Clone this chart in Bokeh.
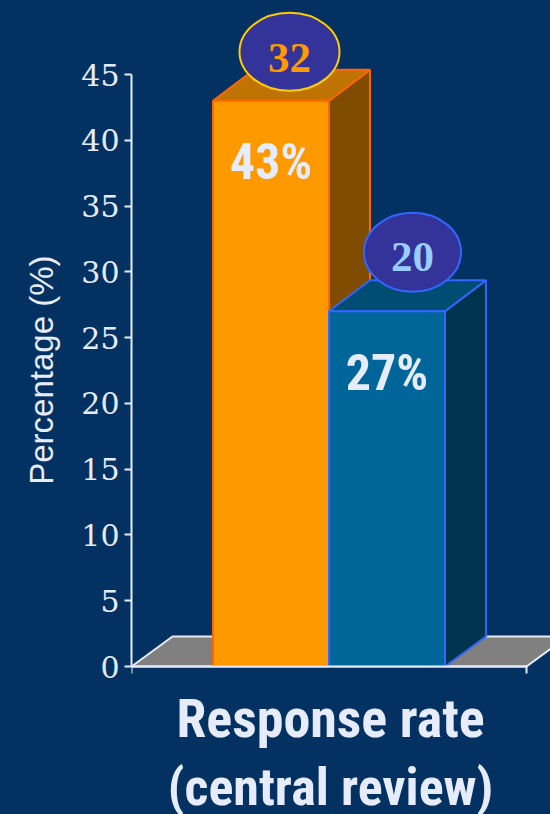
from bokeh.core.properties import value
from bokeh.embed import file_html
from bokeh.models import CustomLabelingPolicy, FixedTicker, Range1d, Title
from bokeh.plotting import figure
from bokeh.resources import INLINE

# Chart values
rates = [43, 27]
rate_labels = ["43%", "27%"]
patients = [32, 20]
y_ticks = [0, 5, 10, 15, 20, 25, 30, 35, 40, 45]
y_title = "Percentage (%)"
x_title_lines = ["Response rate", "(central review)"]

# Colours per bar: front, top, side, outline, oval outline, oval text
front_colors = ["#ff9900", "#00669a"]
top_colors = ["#bf7300", "#004d73"]
side_colors = ["#804d00", "#00334d"]
edge_colors = ["#ff6600", "#3366ff"]
oval_edges = ["#ffcc00", "#3366ff"]
oval_text = ["#ff9900", "#99ccff"]

BG = "#033161"
INK = "#e6ecfb"
W, H = 550, 814
AXIS_LEFT, AXIS_BOTTOM, AXIS_TOP = 131, 666, 74
PX = (AXIS_BOTTOM - AXIS_TOP) / 45  # pixels per percentage point
DEPTH_X = 41                        # oblique depth of the 3D boxes
DEPTH_Y = 31 / PX
FLOOR_DEPTH = 30 / PX
BAR_W = 116
BAR_START = 212.5
BASELINE_SHIFT = 0.37               # em offset of the text anchor from the baseline


def px(n):
    """A vertical distance in pixels, in percentage points."""
    return n / PX


p = figure(
    width=W, height=H, output_backend="svg", toolbar_location=None,
    x_range=Range1d(AXIS_LEFT, W),
    y_range=Range1d(-px(H - AXIS_BOTTOM), px(AXIS_BOTTOM)),
    min_border_left=AXIS_LEFT, min_border_right=0, min_border_top=0, min_border_bottom=0,
    background_fill_color=None, border_fill_color=None, outline_line_color=None,
)
p.styles = {"background-color": BG}
p.grid.visible = False

# Left axis
yax = p.yaxis[0]
yax.bounds = (0, 45)
yax.ticker = FixedTicker(ticks=y_ticks)
yax.minor_tick_line_color = None
yax.major_tick_in = 0
yax.major_tick_out = 7
yax.major_tick_line_color = INK
yax.major_tick_line_width = 2
yax.axis_line_color = INK
yax.axis_line_width = 2
yax.major_label_text_color = INK
yax.major_label_text_font = "DejaVu Serif"
yax.major_label_text_font_size = "30px"
yax.major_label_standoff = 5
yax.major_label_orientation = "horizontal"

# Vertical title beside the axis, anchored by its upper end
p.add_layout(Title(text=y_title, align="right", offset=255, standoff=38,
                   text_color=INK, text_font="Liberation Sans",
                   text_font_style="normal", text_font_size="33px"), "left")

# Floor of the chart, with the baseline axis along its front edge
floor_right = 526
p.patch([AXIS_LEFT, AXIS_LEFT + DEPTH_X, floor_right + DEPTH_X, floor_right],
        [0, FLOOR_DEPTH, FLOOR_DEPTH, 0],
        fill_color="#808080", line_color=INK, line_width=2)

xax = p.xaxis[0]
xax.fixed_location = 0
xax.bounds = (AXIS_LEFT, floor_right)
xax.ticker = FixedTicker(ticks=[AXIS_LEFT, floor_right])
xax.minor_tick_line_color = None
xax.major_label_policy = CustomLabelingPolicy(code="return new Set()")
xax.major_tick_in = 0
xax.major_tick_out = 7
xax.major_tick_line_color = INK
xax.major_tick_line_width = 2
xax.axis_line_color = INK
xax.axis_line_width = 2

# 3D boxes, back to front
for i, rate in enumerate(rates):
    x0 = BAR_START + i * BAR_W
    x1 = x0 + BAR_W
    p.patch([x1, x1 + DEPTH_X, x1 + DEPTH_X, x1], [0, FLOOR_DEPTH, rate + DEPTH_Y, rate],
            fill_color=side_colors[i], line_color=edge_colors[i], line_width=2)
    p.patch([x0, x0 + DEPTH_X, x1 + DEPTH_X, x1], [rate, rate + DEPTH_Y, rate + DEPTH_Y, rate],
            fill_color=top_colors[i], line_color=edge_colors[i], line_width=2)
    p.patch([x0, x1, x1, x0], [0, 0, rate, rate],
            fill_color=front_colors[i], line_color=edge_colors[i], line_width=2)
    p.text([(x0 + x1) / 2], [rate - px(80 - BASELINE_SHIFT * 50)], text=[rate_labels[i]],
           text_font=value("Roboto Condensed"), text_font_style="bold",
           text_font_size="50px", text_color=INK,
           text_align="center", text_baseline="alphabetic")

# Ovals holding the patient counts
oval_x = [289, 412]
oval_lift = [49, 59]
oval_w = [100, 97]
oval_h = [78, 79]
baseline_lift = [27, 38]
for i, n in enumerate(patients):
    p.ellipse([oval_x[i]], [rates[i] + px(oval_lift[i])], width=oval_w[i], height=px(oval_h[i]),
              fill_color="#333399", line_color=oval_edges[i], line_width=2)
    p.text([oval_x[i]], [rates[i] + px(baseline_lift[i] + BASELINE_SHIFT * 43)], text=[str(n)],
           text_font=value("Liberation Serif"), text_font_style="bold",
           text_font_size="43px", text_color=oval_text[i],
           text_align="center", text_baseline="alphabetic")

# Category caption under the axis
for line, drop, size in zip(x_title_lines, [72, 140], [54, 52]):
    p.text([330], [-px(drop - BASELINE_SHIFT * size)], text=[line],
           text_font=value("Roboto Condensed"), text_font_style="bold",
           text_font_size=f"{size}px", text_color=INK,
           text_align="center", text_baseline="alphabetic")

open("out.html", "w").write(file_html(p, INLINE))
